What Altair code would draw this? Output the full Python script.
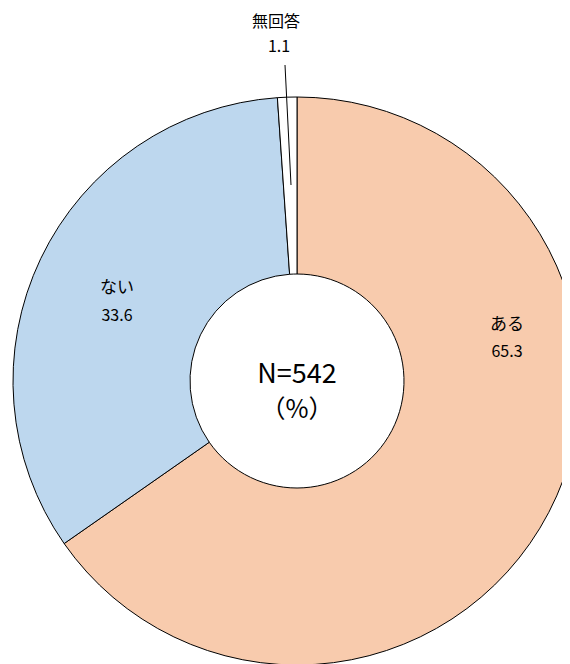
import altair as alt
import pandas as pd

categories = ["ある", "ない", "無回答"]
values = [65.3, 33.6, 1.1]
colors = ["#F8CBAD", "#BDD7EE", "#FFFFFF"]
order_idx = [0, 1, 2]

df = pd.DataFrame({"cat": categories, "val": values, "ord": order_idx})

W, H = 554, 656
CX, CY = 289, 373
FONT = "Noto Sans CJK JP"

arc = alt.Chart(df).mark_arc(
    innerRadius=107, outerRadius=284, stroke="black", strokeWidth=1
).encode(
    theta=alt.Theta("val:Q", stack=True),
    order=alt.Order("ord:Q"),
    color=alt.Color("cat:N", scale=alt.Scale(domain=categories, range=colors), legend=None),
    x=alt.value(CX),
    y=alt.value(CY),
)

def txt(s, x, y, size):
    return alt.Chart(pd.DataFrame({"t": [s]})).mark_text(
        font=FONT, fontSize=size, color="black", baseline="middle", align="center"
    ).encode(text="t:N", x=alt.value(x), y=alt.value(y))

labels = [
    txt(categories[0], 499, 317, 17),
    txt(f"{values[0]:.1f}", 499, 344, 16),
    txt(categories[1], 109, 280, 17),
    txt(f"{values[1]:.1f}", 109, 308, 16),
    txt(categories[2], 268, 14, 16),
    txt(f"{values[2]:.1f}", 271, 39, 16),
    txt("N=542", CX, 367, 27),
    txt("（%）", CX, 402, 25),
]

leader = alt.Chart(pd.DataFrame({"a": [0]})).mark_rule(color="black", strokeWidth=1).encode(
    x=alt.value(277), y=alt.value(57), x2=alt.value(283), y2=alt.value(177)
)

chart = alt.layer(arc, leader, *labels).properties(
    width=W, height=H, padding=0, autosize=alt.AutoSizeParams(type="none"), background="white"
).configure_view(stroke=None)

chart.save("out.html", embed_options={"renderer": "svg", "actions": False})
